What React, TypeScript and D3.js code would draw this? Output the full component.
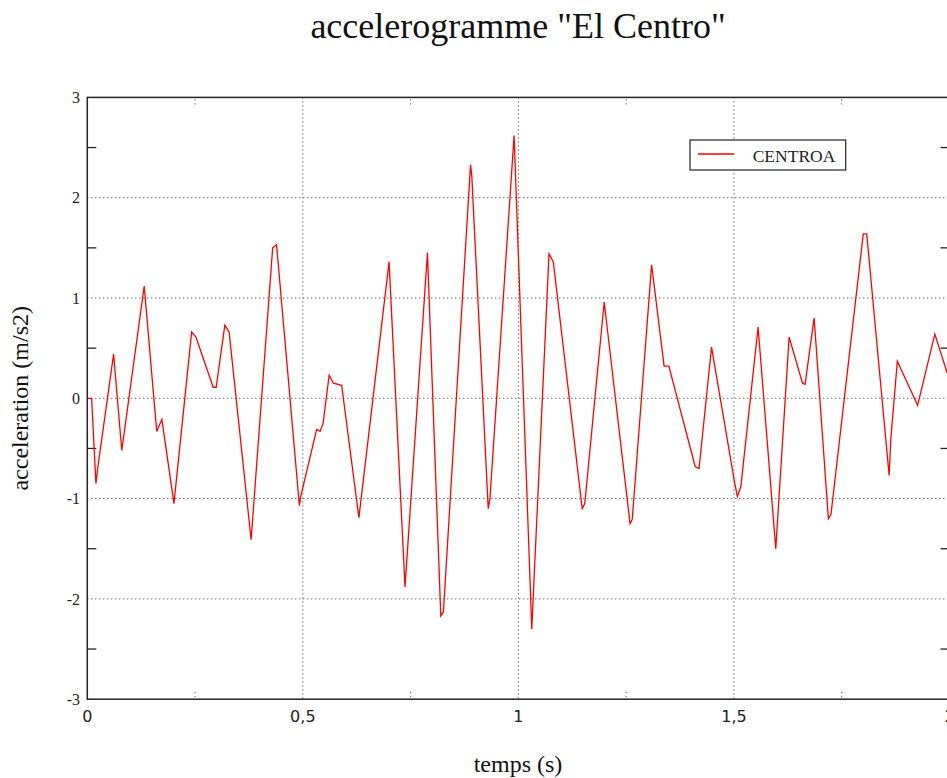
import React from "react";
import * as d3 from "d3";

// time (s) and acceleration (m/s2)
const times = [
  0, 0.01, 0.02, 0.024, 0.061, 0.08, 0.132, 0.161, 0.173, 0.201, 0.242, 0.252, 0.292, 0.299,
  0.319, 0.329, 0.38, 0.43, 0.439, 0.492, 0.495, 0.532, 0.54, 0.547, 0.561, 0.571,
  0.59, 0.63, 0.7, 0.737, 0.789, 0.82, 0.826, 0.889, 0.892, 0.93, 0.934, 0.99, 1.031,
  1.071, 1.081, 1.148, 1.154, 1.199, 1.259, 1.264, 1.309, 1.338, 1.349, 1.41, 1.419,
  1.421, 1.448, 1.502, 1.508, 1.516, 1.556, 1.597, 1.628, 1.659, 1.665, 1.686, 1.719,
  1.725, 1.8, 1.808, 1.86, 1.864, 1.879, 1.926, 1.966, 2.0,
];
const accel = [
  0, 0, -0.85, -0.7, 0.44, -0.52, 1.12, -0.33, -0.21, -1.05, 0.66, 0.61, 0.11, 0.11,
  0.73, 0.66, -1.41, 1.5, 1.53, -1.07, -0.98, -0.31, -0.33, -0.25, 0.23, 0.15,
  0.13, -1.19, 1.36, -1.88, 1.45, -2.17, -2.13, 2.33, 2.21, -1.1, -1.0, 2.62, -2.3,
  1.44, 1.36, -1.1, -1.05, 0.96, -1.25, -1.21, 1.33, 0.32, 0.32, -0.68, -0.7,
  -0.62, 0.51, -0.85, -0.98, -0.88, 0.71, -1.5, 0.61, 0.15, 0.14, 0.8, -1.2,
  -1.16, 1.64, 1.64, -0.77, -0.4, 0.37, -0.07, 0.64, 0.18,
];
const xTicks = [0, 0.5, 1, 1.5, 2];
const xTickLabels = ["0", "0,5", "1", "1,5", "2"];
const xMinor = [0.25, 0.75, 1.25, 1.75];
const yTicks = [-3, -2, -1, 0, 1, 2, 3];
const yMinor = [-2.5, -1.5, -0.5, 0.5, 1.5, 2.5];
const seriesName = "CENTROA";
const title = 'accelerogramme "El Centro"';
const xLabel = "temps (s)";
const yLabel = "acceleration (m/s2)";

const W = 947;
const H = 778;
const L = 87.3;
const R = 949.5;
const T = 97.4;
const B = 699.2;

export default function App() {
  const x = d3.scaleLinear().domain([0, 2]).range([L, R]);
  const y = d3.scaleLinear().domain([-3, 3]).range([B, T]);
  const data = times.map((t, i) => [t, accel[i]] as [number, number]);
  const line = d3
    .line<[number, number]>()
    .x((d) => x(d[0]))
    .y((d) => y(d[1]));

  const serif = "'Liberation Serif', 'Times New Roman', serif";
  const sans = "'DejaVu Sans', sans-serif";
  const gridStyle = { stroke: "#333", strokeWidth: 1, strokeDasharray: "1,3" };

  return (
    <svg
      width={W}
      height={H}
      style={{ position: "absolute", left: 0, top: 0, background: "#fff" }}
    >
      <rect x={0} y={0} width={W} height={H} fill="#fff" />
      <text x={518} y={38} textAnchor="middle" fontFamily={serif} fontSize={36} fill="#111">
        {title}
      </text>

      {/* horizontal grid */}
      {yTicks
        .filter((v) => v > -3 && v < 3)
        .map((v) => (
          <line key={"hg" + v} x1={L} x2={R} y1={y(v)} y2={y(v)} {...gridStyle} />
        ))}
      {/* vertical grid */}
      {xTicks
        .filter((v) => v > 0 && v < 2)
        .map((v) => (
          <line key={"vg" + v} x1={x(v)} x2={x(v)} y1={T} y2={B} {...gridStyle} />
        ))}
      {/* minor x ticks (dotted) */}
      {xMinor.map((v) => (
        <g key={"xm" + v}>
          <line x1={x(v)} x2={x(v)} y1={T + 2} y2={T + 8} {...gridStyle} />
          <line x1={x(v)} x2={x(v)} y1={B - 2} y2={B - 8} {...gridStyle} />
        </g>
      ))}
      {/* minor y ticks (solid) */}
      {yMinor.map((v) => (
        <g key={"ym" + v}>
          <line x1={L} x2={L + 9} y1={y(v)} y2={y(v)} stroke="#222" strokeWidth={1.3} />
          <line x1={R} x2={R - 9} y1={y(v)} y2={y(v)} stroke="#222" strokeWidth={1.3} />
        </g>
      ))}

      {/* data */}
      <path d={line(data) || ""} fill="none" stroke="#ff0000" strokeWidth={1.3} />

      {/* frame */}
      <rect x={L} y={T} width={R - L} height={B - T} fill="none" stroke="#222" strokeWidth={1.5} />

      {/* y tick labels */}
      {yTicks.map((v) => (
        <text
          key={"yl" + v}
          x={80}
          y={y(v)}
          dy="0.35em"
          textAnchor="end"
          fontFamily={serif}
          fontSize={16}
          fill="#222"
        >
          {v}
        </text>
      ))}
      {/* x tick labels */}
      {xTicks.map((v, i) => (
        <text
          key={"xl" + v}
          x={x(v)}
          y={722}
          textAnchor="middle"
          fontFamily={sans}
          fontSize={16}
          fill="#222"
        >
          {xTickLabels[i]}
        </text>
      ))}

      {/* axis labels */}
      <text x={518} y={772} textAnchor="middle" fontFamily={serif} fontSize={24} fill="#111">
        {xLabel}
      </text>
      <text
        transform={`translate(28, ${y(0)}) rotate(-90)`}
        textAnchor="middle"
        fontFamily={serif}
        fontSize={24}
        fill="#111"
      >
        {yLabel}
      </text>

      {/* legend */}
      <rect x={690} y={140} width={155.7} height={30} fill="#fff" stroke="#222" strokeWidth={1.2} />
      <line x1={698} x2={734} y1={154} y2={154} stroke="#ff0000" strokeWidth={1.3} />
      <text x={752.7} y={162.3} fontFamily={serif} fontSize={17.5} fill="#222">
        {seriesName}
      </text>
    </svg>
  );
}
